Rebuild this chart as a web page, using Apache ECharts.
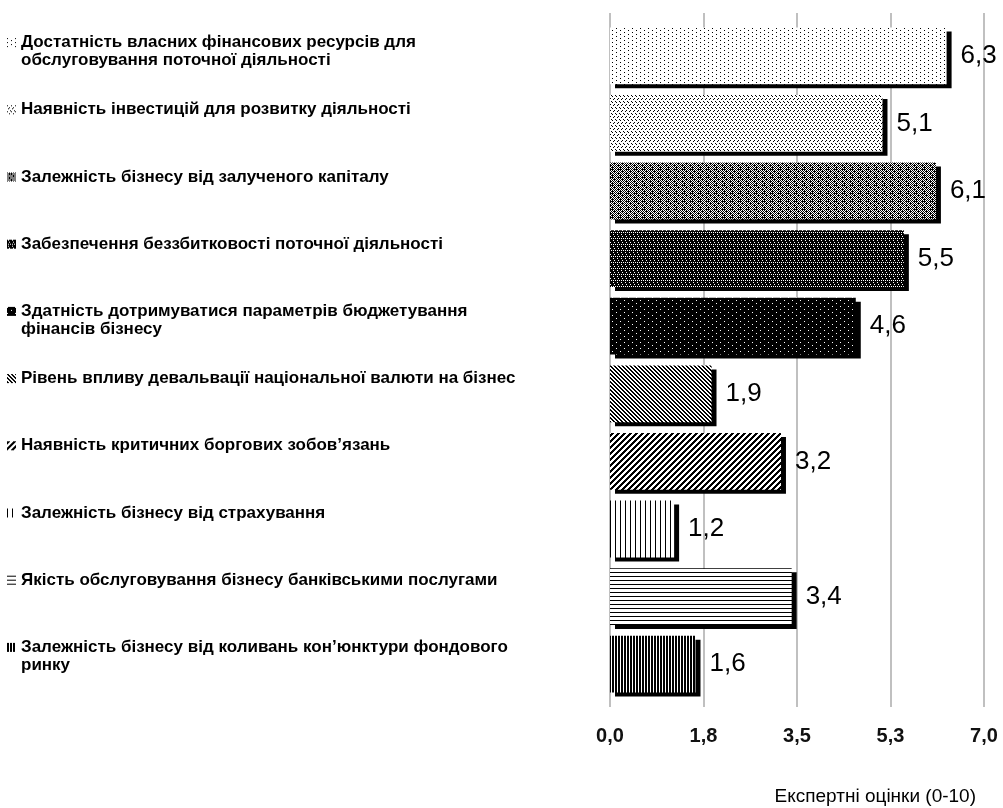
<!DOCTYPE html>
<html>
<head>
<meta charset="utf-8">
<script src="https://cdn.jsdelivr.net/npm/echarts@6/dist/echarts.min.js"></script>
<style>
  html, body { margin: 0; padding: 0; background: #fff; }
  #main { width: 1003px; height: 808px; }
</style>
</head>
<body>
<div id="main"></div>
<script>
  // дані діаграми
  const categories = [
    'Достатність власних фінансових ресурсів для\nобслуговування поточної діяльності',
    'Наявність інвестицій для розвитку діяльності',
    'Залежність бізнесу від залученого капіталу',
    'Забезпечення беззбитковості поточної діяльності',
    'Здатність дотримуватися параметрів бюджетування\nфінансів бізнесу',
    'Рівень впливу девальвації національної валюти на бізнес',
    'Наявність критичних боргових зобов\u2019язань',
    'Залежність бізнесу від страхування',
    'Якість обслуговування бізнесу банківськими послугами',
    'Залежність бізнесу від коливань кон\u2019юнктури фондового\nринку'
  ];
  const values = [6.3, 5.1, 6.1, 5.5, 4.6, 1.9, 3.2, 1.2, 3.4, 1.6];
  const tickLabels = ['0,0', '1,8', '3,5', '5,3', '7,0'];
  const axisTitle = 'Експертні оцінки (0-10)';

  // штрихування (# - чорний піксель)
  const tiles = [
    ['#.......', '........', '....#...', '........'],
    ['#...', '....', '..#.', '.#..', '....', '...#'],
    ['#.#.#.#.', '.#####.#', '#.#.#.#.', '.#.#.###', '#.#.#.#.', '.###.#.#', '#.#.#.#.', '.#.###.#'],
    ['#.##', '####', '##.#', '####', '#.#.', '####'],
    ['.#######', '########', '########', '####.###', '########', '########'],
    ['##..', '.##.', '..##', '#..#'],
    ['###...', '##...#', '#...##', '...###', '..###.', '.###..'],
    ['#....'],
    ['#', '.', '.', '.'],
    ['##.']
  ];

  function makeTile(rows) {
    const c = document.createElement('canvas');
    c.width = rows[0].length;
    c.height = rows.length;
    const ctx = c.getContext('2d');
    rows.forEach((r, y) => {
      for (let x = 0; x < r.length; x++) {
        ctx.fillStyle = r[x] === '#' ? '#000' : '#fff';
        ctx.fillRect(x, y, 1, 1);
      }
    });
    return c;
  }
  function makeIcon(tile) {
    const c = document.createElement('canvas');
    c.width = 9; c.height = 9;
    const ctx = c.getContext('2d');
    ctx.fillStyle = ctx.createPattern(tile, 'repeat');
    ctx.fillRect(0, 0, 9, 9);
    return c;
  }
  const tileCanvases = tiles.map(makeTile);
  const icons = tileCanvases.map(makeIcon);

  const FONT = 'Liberation Sans, Arial, sans-serif';
  const rich = {
    s: { width: 9 },
    g: { width: 5 },
    t: { fontSize: 17, fontWeight: 'bold', lineHeight: 18, fontFamily: FONT, color: '#000' }
  };
  icons.forEach((ic, i) => {
    rich['i' + i] = { width: 9, height: 9, backgroundColor: { image: ic } };
  });

  const chart = echarts.init(document.getElementById('main'));
  chart.setOption({
    animation: false,
    title: {
      text: axisTitle,
      right: 22,
      top: 782,
      textStyle: { fontSize: 19, fontWeight: 'normal', fontFamily: FONT, color: '#000' }
    },
    grid: [
      { left: 610, right: 19, top: 22, height: 676 },
      { left: 610, right: 19, top: -4, height: 676 },
      { left: 610, right: 19, top: 13, height: 694 }
    ],
    xAxis: [
      { gridIndex: 0, type: 'value', min: 0, max: 7, interval: 1.75, show: false },
      { gridIndex: 1, type: 'value', min: 0, max: 7, show: false },
      {
        gridIndex: 2, type: 'value', min: 0, max: 7, interval: 1.75,
        axisLine: { show: false },
        axisTick: { show: false },
        splitLine: { show: true, lineStyle: { color: '#c0c0c0', width: 2 } },
        axisLabel: {
          margin: 19,
          fontSize: 20,
          fontWeight: 'bold',
          fontFamily: FONT,
          color: '#111',
          formatter: (v) => tickLabels[Math.round(v / 1.75)]
        }
      }
    ],
    yAxis: [
      { gridIndex: 0, type: 'category', data: categories, inverse: true, show: false },
      {
        gridIndex: 1, type: 'category', data: categories, inverse: true,
        axisLine: { show: false },
        axisTick: { show: false },
        axisLabel: {
          interval: 0,
          align: 'left',
          verticalAlign: 'top',
          margin: 603,
          rich: rich,
          formatter: (v, idx) => v.split('\n')
            .map((l, k) => (k === 0 ? '{i' + idx + '|}' : '{s|}') + '{g|}{t|' + l + '}')
            .join('\n')
        }
      },
      { gridIndex: 2, type: 'value', min: 0, max: 1, show: false }
    ],
    series: [{
      type: 'bar',
      xAxisIndex: 0,
      yAxisIndex: 0,
      barCategoryGap: '16%',
      data: values.map((v, i) => ({
        value: v,
        itemStyle: { color: { image: tileCanvases[i], repeat: 'repeat' } }
      })),
      itemStyle: {
        shadowColor: '#000',
        shadowBlur: 0,
        shadowOffsetX: 5,
        shadowOffsetY: 4
      },
      label: {
        show: true,
        position: 'right',
        distance: 14,
        fontSize: 26,
        fontFamily: FONT,
        color: '#000',
        formatter: (p) => p.value.toFixed(1).replace('.', ',')
      }
    }]
  });
</script>
</body>
</html>
